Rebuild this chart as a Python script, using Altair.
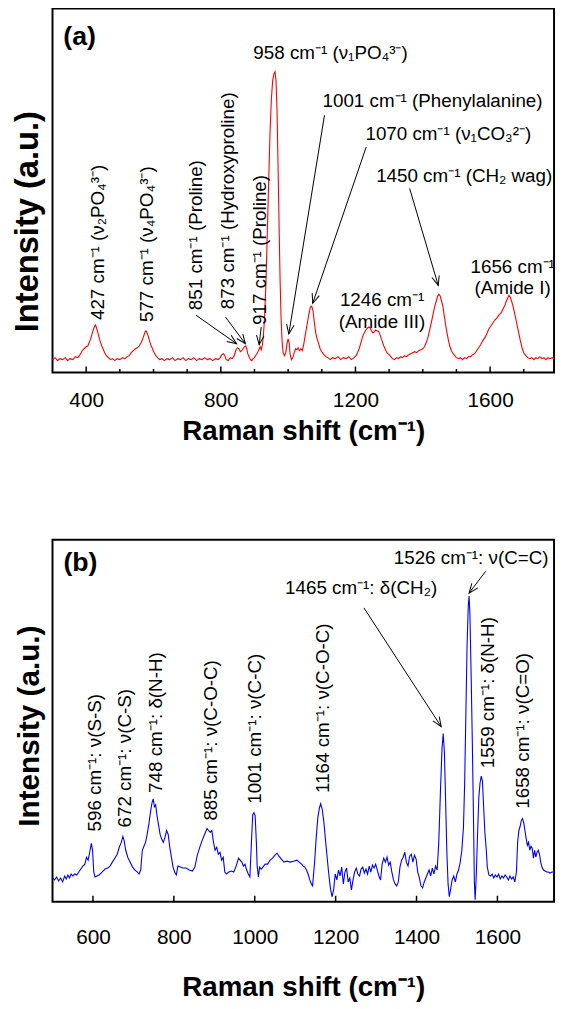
import math
import altair as alt
import pandas as pd

FONT = "Liberation Sans"

# ---------------- Panel (a): bone spectrum (Raman shift cm-1, intensity a.u.) ----------------
a_spectrum = [
    (300, 13), (308, 15), (315, 12), (322, 14), (330, 13), (338, 15), (345, 12), (352, 14), (360, 13),
    (368, 16), (375, 15), (382, 18), (388, 22), (394, 24), (400, 26), (405, 27), (410, 31), (415, 36),
    (420, 42), (424, 46), (427, 48), (430, 46), (434, 41), (438, 36), (442, 31), (446, 27), (450, 24),
    (455, 20), (460, 17), (466, 15), (472, 13), (478, 14), (485, 12), (492, 14), (500, 13), (508, 15),
    (515, 14), (522, 16), (528, 17), (534, 20), (540, 22), (546, 24), (552, 25), (558, 27), (563, 30),
    (567, 33), (571, 37), (575, 41), (578, 42), (581, 40), (585, 36), (589, 31), (593, 27), (597, 24),
    (602, 20), (607, 17), (612, 15), (618, 13), (625, 14), (632, 12), (640, 14), (648, 13), (656, 15),
    (664, 12), (672, 14), (680, 13), (688, 15), (696, 12), (704, 14), (712, 13), (720, 15), (728, 12),
    (736, 14), (744, 13), (752, 15), (760, 13), (768, 14), (776, 12), (784, 14), (792, 13), (798, 15),
    (803, 18), (808, 19), (812, 17), (816, 13), (822, 12), (828, 15), (834, 14), (840, 17), (845, 23),
    (850, 25), (854, 24), (858, 21), (862, 22), (866, 24), (870, 26), (874, 27), (877, 24), (880, 19),
    (884, 16), (888, 13), (892, 12), (896, 14), (900, 15), (905, 18), (909, 20), (913, 23), (917, 26),
    (920, 23), (923, 27), (926, 35), (930, 55), (934, 90), (938, 140), (942, 190), (946, 240), (950, 275),
    (954, 295), (958, 302), (961, 304), (964, 295), (967, 265), (970, 210), (973, 150), (976, 95),
    (979, 55), (982, 32), (985, 20), (989, 17), (993, 20), (997, 30), (1000, 34), (1003, 30), (1006, 18),
    (1010, 13), (1014, 15), (1018, 20), (1022, 24), (1026, 23), (1030, 25), (1034, 22), (1038, 24),
    (1042, 22), (1046, 28), (1051, 38), (1056, 48), (1061, 58), (1066, 66), (1070, 67), (1074, 62),
    (1078, 50), (1082, 40), (1086, 34), (1090, 30), (1095, 24), (1100, 21), (1106, 18), (1112, 16),
    (1118, 15), (1125, 13), (1132, 15), (1140, 14), (1148, 16), (1156, 13), (1164, 15), (1172, 14),
    (1180, 16), (1188, 13), (1196, 15), (1202, 17), (1206, 20), (1211, 24), (1216, 30), (1221, 36),
    (1226, 40), (1231, 43), (1236, 45), (1240, 46), (1244, 45), (1248, 42), (1252, 40), (1256, 41),
    (1260, 43), (1264, 42), (1268, 42), (1272, 39), (1276, 35), (1280, 31), (1284, 27), (1288, 24),
    (1292, 21), (1296, 19), (1300, 18), (1305, 16), (1310, 14), (1316, 13), (1322, 15), (1328, 14),
    (1334, 16), (1340, 15), (1346, 17), (1352, 16), (1358, 18), (1364, 19), (1370, 20), (1376, 21),
    (1382, 20), (1388, 22), (1394, 23), (1400, 24), (1405, 26), (1410, 30), (1415, 35), (1420, 42),
    (1425, 50), (1430, 58), (1435, 66), (1440, 72), (1444, 77), (1448, 79), (1452, 77), (1456, 72),
    (1460, 66), (1464, 57), (1468, 48), (1472, 40), (1476, 33), (1480, 27), (1485, 22), (1490, 19),
    (1495, 17), (1500, 15), (1506, 14), (1512, 15), (1518, 13), (1524, 15), (1530, 14), (1536, 16),
    (1542, 16), (1548, 18), (1554, 19), (1560, 22), (1566, 25), (1572, 28), (1578, 32), (1584, 35),
    (1590, 39), (1596, 44), (1602, 47), (1608, 50), (1614, 53), (1620, 55), (1626, 58), (1632, 60),
    (1638, 64), (1644, 68), (1648, 72), (1652, 75), (1656, 78), (1660, 76), (1664, 72), (1668, 67),
    (1672, 61), (1676, 55), (1680, 48), (1685, 40), (1690, 32), (1695, 25), (1700, 20), (1706, 17),
    (1712, 15), (1718, 14), (1724, 15), (1730, 13), (1736, 15), (1742, 14), (1748, 16), (1754, 14),
    (1760, 15), (1766, 13), (1772, 15), (1778, 14), (1784, 15), (1790, 14),
]

# ---------------- Panel (b) ----------------
b_spectrum = [
    (500, 24), (505, 22), (510, 25), (515, 21), (520, 24), (525, 20), (530, 26), (534, 23), (538, 27),
    (542, 24), (546, 28), (550, 26), (555, 28), (560, 27), (565, 30), (570, 33), (575, 36), (580, 38),
    (584, 45), (588, 42), (592, 50), (596, 59), (599, 52), (602, 30), (605, 25), (610, 26), (615, 27),
    (620, 29), (625, 31), (630, 33), (636, 34), (642, 36), (648, 40), (654, 44), (660, 48), (665, 55),
    (670, 60), (674, 66), (677, 62), (681, 52), (686, 45), (692, 40), (698, 35), (704, 32), (710, 30),
    (714, 28), (718, 32), (722, 52), (726, 56), (730, 60), (734, 68), (738, 78), (742, 90), (746, 100),
    (749, 104), (752, 96), (755, 98), (758, 88), (762, 78), (766, 68), (770, 63), (774, 60), (778, 65),
    (782, 72), (786, 68), (790, 55), (794, 45), (798, 35), (802, 30), (806, 27), (810, 36), (816, 35),
    (822, 34), (830, 34), (838, 32), (846, 31), (852, 35), (858, 47), (864, 55), (870, 62), (876, 68),
    (882, 74), (886, 72), (890, 70), (894, 72), (898, 60), (902, 52), (906, 55), (910, 48), (914, 50),
    (918, 42), (922, 45), (926, 30), (930, 28), (936, 30), (942, 31), (948, 30), (954, 36), (960, 44),
    (964, 42), (968, 40), (972, 36), (976, 38), (980, 32), (984, 28), (988, 25), (992, 62), (995, 88),
    (998, 90), (1001, 87), (1004, 60), (1006, 36), (1009, 25), (1012, 35), (1016, 33), (1020, 35),
    (1026, 38), (1032, 38), (1038, 42), (1044, 44), (1050, 47), (1055, 49), (1060, 46), (1066, 43),
    (1072, 40), (1080, 41), (1088, 40), (1096, 41), (1104, 42), (1110, 40), (1116, 38), (1120, 36),
    (1124, 35), (1128, 32), (1132, 28), (1136, 22), (1140, 18), (1143, 16), (1148, 40), (1152, 65),
    (1156, 85), (1160, 95), (1163, 99), (1167, 93), (1171, 80), (1175, 62), (1179, 45), (1183, 28),
    (1187, 14), (1191, 5), (1195, 12), (1199, 28), (1203, 22), (1207, 32), (1211, 26), (1215, 35),
    (1219, 18), (1223, 30), (1227, 34), (1231, 20), (1235, 24), (1239, 12), (1243, 22), (1247, 30),
    (1251, 34), (1255, 28), (1259, 26), (1263, 33), (1267, 35), (1271, 29), (1275, 33), (1279, 28),
    (1283, 36), (1287, 30), (1291, 37), (1295, 34), (1299, 38), (1303, 32), (1307, 26), (1311, 22),
    (1315, 38), (1319, 44), (1323, 40), (1327, 45), (1331, 37), (1335, 40), (1339, 30), (1343, 22),
    (1347, 18), (1351, 16), (1355, 20), (1359, 35), (1363, 42), (1367, 45), (1371, 50), (1375, 40),
    (1379, 36), (1383, 46), (1387, 48), (1391, 40), (1395, 47), (1399, 43), (1403, 30), (1407, 24),
    (1411, 16), (1415, 14), (1419, 20), (1423, 24), (1427, 28), (1431, 32), (1435, 26), (1439, 34),
    (1443, 28), (1447, 36), (1451, 32), (1455, 60), (1459, 110), (1463, 155), (1466, 170), (1469, 150),
    (1472, 100), (1475, 50), (1478, 18), (1481, 5), (1484, 12), (1488, 22), (1492, 26), (1496, 20),
    (1500, 28), (1504, 32), (1508, 40), (1512, 52), (1516, 75), (1519, 120), (1522, 190), (1525, 260),
    (1528, 300), (1530, 309), (1532, 290), (1535, 230), (1538, 160), (1541, 80), (1543, 20), (1545, 2),
    (1548, 30), (1551, 70), (1554, 105), (1557, 120), (1560, 127), (1563, 122), (1566, 95), (1569, 70),
    (1572, 55), (1575, 35), (1579, 27), (1583, 26), (1587, 28), (1591, 24), (1595, 27), (1599, 25),
    (1603, 28), (1607, 23), (1611, 26), (1615, 24), (1619, 27), (1623, 25), (1627, 22), (1631, 26),
    (1635, 23), (1639, 25), (1643, 20), (1647, 30), (1650, 60), (1653, 72), (1656, 76), (1659, 82),
    (1662, 84), (1665, 80), (1668, 72), (1671, 64), (1674, 57), (1677, 60), (1680, 52), (1683, 56),
    (1686, 54), (1689, 44), (1692, 52), (1695, 45), (1698, 50), (1701, 52), (1704, 48), (1707, 40),
    (1710, 35), (1714, 32), (1718, 31), (1722, 30), (1726, 30), (1730, 29), (1735, 30), (1740, 30),
]

# axis ticks / labels
a_tick_labels = [400, 800, 1200, 1600]
a_minor_ticks = [500, 600, 700, 900, 1000, 1100, 1300, 1400, 1500, 1700]
b_tick_labels = [600, 800, 1000, 1200, 1400, 1600]

# annotations panel (a)
a_h_text = ["958 cm\u207b\u00b9 (\u03bd\u2081PO\u2084\u00b3\u207b)",
            "1001 cm\u207b\u00b9 (Phenylalanine)",
            "1070 cm\u207b\u00b9 (\u03bd\u2081CO\u2083\u00b2\u207b)",
            "1450 cm\u207b\u00b9 (CH\u2082 wag)",
            "1246 cm\u207b\u00b9\n(Amide III)",
            "1656 cm\u207b\u00b9\n(Amide I)"]
a_h_x = [1126, 1429, 1476, 1523, 1279, 1667]
a_h_y = [323, 274, 241, 199, 73, 107]

a_v_text = ["427 cm\u207b\u00b9 (\u03bd\u2082PO\u2084\u00b3\u207b)",
            "577 cm\u207b\u00b9 (\u03bd\u2084PO\u2084\u00b3\u207b)",
            "851 cm\u207b\u00b9 (Proline)",
            "873 cm\u207b\u00b9 (Hydroxyproline)",
            "917 cm\u207b\u00b9 (Proline)"]
a_v_x = [435, 582, 726, 823, 917]
a_v_y = [53, 51, 63, 64, 48]

a_arr_x1 = [726, 814, 920, 1108, 1232, 1361]
a_arr_y1 = [58, 56, 46, 260, 228, 186]
a_arr_x2 = [847, 873, 914, 1002, 1073, 1446]
a_arr_y2 = [29, 29, 28, 39, 70, 88]

# annotations panel (b)
b_h_text = ["1526 cm\u207b\u00b9: \u03bd(C=C)", "1465 cm\u207b\u00b9: \u03b4(CH\u2082)"]
b_h_x = [1535, 1263]
b_h_y = [347, 317]

b_v_text = ["596 cm\u207b\u00b9: \u03bd(S-S)", "672 cm\u207b\u00b9: \u03bd(C-S)", "748 cm\u207b\u00b9: \u03b4(N-H)",
            "885 cm\u207b\u00b9: \u03bd(C-O-C)", "1001 cm\u207b\u00b9: \u03bd(C-C)", "1164 cm\u207b\u00b9: \u03bd(C-O-C)",
            "1559 cm\u207b\u00b9: \u03b4(N-H)", "1658 cm\u207b\u00b9: \u03bd(C=O)"]
b_v_x = [605, 679, 757, 891, 1001, 1168, 1576, 1664]
b_v_y = [71, 75, 110, 82, 99, 110, 135, 94]

b_arr_x1 = [1270, 1571]
b_arr_y1 = [297, 334]
b_arr_x2 = [1461, 1530]
b_arr_y2 = [177, 312]

ARROW = "M-0.8,-2L0,0L0.8,-2"


def panel(spectrum, color, xdom, ydom, W, H, tick_labels, major, minor, hx, hy, ht,
          vx, vy, vt, ax1, ay1, ax2, ay2, tag, tag_x, tag_y, ytitle_size, ytitle_y,
          label_pad, title_pad):
    X = alt.X("x:Q", scale=alt.Scale(domain=xdom, nice=False, zero=False),
              axis=alt.Axis(values=tick_labels, format="d", ticks=False, domain=False, grid=False,
                            labelFontSize=21, labelPadding=label_pad, labelFont=FONT, labelColor="black",
                            labelFlush=False, title="Raman shift (cm\u207b\u00b9)", titleFont=FONT,
                            titleFontSize=28, titleFontWeight="bold", titlePadding=title_pad,
                            titleColor="black"))
    Y = alt.Y("y:Q", scale=alt.Scale(domain=ydom, nice=False, zero=False),
              axis=alt.Axis(labels=False, ticks=False, domain=False, grid=False,
                            title="Intensity (a.u.)", titleFont=FONT, titleFontSize=ytitle_size,
                            titleFontWeight="bold", titlePadding=8, titleColor="black", titleY=ytitle_y))

    df = pd.DataFrame(spectrum, columns=["x", "y"])
    line = alt.Chart(df).mark_line(color=color, strokeWidth=1.1).encode(x=X, y=Y)

    kx = W / (xdom[1] - xdom[0])
    ky = H / (ydom[1] - ydom[0])
    angles = []
    for x1, y1, x2, y2 in zip(ax1, ay1, ax2, ay2):
        dx = (x2 - x1) * kx
        dy = -(y2 - y1) * ky
        angles.append(math.degrees(math.atan2(-dx, dy)) % 360)
    arr = pd.DataFrame({"x": ax1, "y": ay1, "x2": ax2, "y2": ay2, "ang": angles})
    shafts = alt.Chart(arr).mark_rule(color="black", strokeWidth=1).encode(
        x=X, y=Y, x2="x2:Q", y2="y2:Q")
    heads = alt.Chart(arr).mark_point(shape=ARROW, filled=False, color="black", strokeWidth=1,
                                      size=90, opacity=1).encode(
        x=alt.X("x2:Q", scale=alt.Scale(domain=xdom, nice=False, zero=False)),
        y=alt.Y("y2:Q", scale=alt.Scale(domain=ydom, nice=False, zero=False)),
        angle=alt.Angle("ang:Q", scale=None))

    layers = [line]
    for vals, ln in ((major, 6), (minor, 3.5)):
        if vals:
            tdf = pd.DataFrame({"x": vals})
            layers.append(alt.Chart(tdf).mark_rule(color="black", strokeWidth=1.5).encode(
                x=X, y=alt.value(H), y2=alt.value(H - ln)))
    layers += [shafts, heads]

    hdf = pd.DataFrame({"x": hx, "y": hy, "t": ht})
    layers.append(alt.Chart(hdf).mark_text(font=FONT, fontSize=19, align="center", baseline="middle",
                                           lineBreak="\n", lineHeight=22, color="black").encode(
        x=X, y=Y, text="t:N"))
    vdf = pd.DataFrame({"x": vx, "y": vy, "t": vt})
    layers.append(alt.Chart(vdf).mark_text(font=FONT, fontSize=19, align="left", baseline="middle",
                                           angle=270, color="black").encode(x=X, y=Y, text="t:N"))
    tdf = pd.DataFrame({"x": [tag_x], "y": [tag_y], "t": [tag]})
    layers.append(alt.Chart(tdf).mark_text(font=FONT, fontSize=27, fontWeight="bold", align="left",
                                           baseline="middle", color="black").encode(x=X, y=Y, text="t:N"))
    return alt.layer(*layers).properties(width=W, height=H)


pa = panel(a_spectrum, "#ff0000", [300, 1790], [0, 368], 507, 368, a_tick_labels,
           a_tick_labels, a_minor_ticks, a_h_x, a_h_y, a_h_text, a_v_x, a_v_y, a_v_text,
           a_arr_x1, a_arr_y1, a_arr_x2, a_arr_y2, "(a)", 332, 339, 33, 215, 17, 8)
pb = panel(b_spectrum, "#0000ff", [500, 1740], [0, 366], 507, 366, b_tick_labels,
           b_tick_labels, [], b_h_x, b_h_y, b_h_text, b_v_x, b_v_y, b_v_text,
           b_arr_x1, b_arr_y1, b_arr_x2, b_arr_y2, "(b)", 527, 342, 30, 188, 25, 27)

chart = alt.vconcat(pa, pb, spacing=169, bounds="flush").properties(
    padding={"left": 3, "top": -6, "right": 0, "bottom": 0}
).configure(background="white").configure_view(stroke="black", strokeWidth=2)

chart.save("out.html", embed_options={"renderer": "svg", "actions": False})
